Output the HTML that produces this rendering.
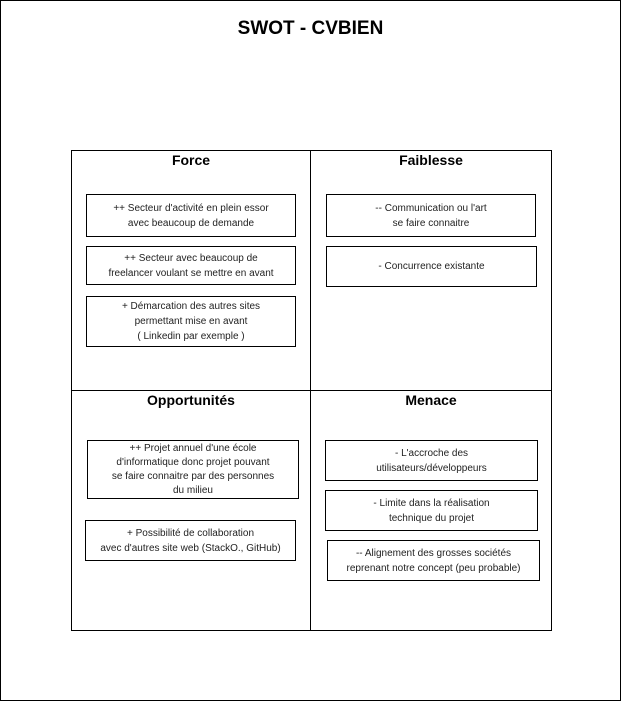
<!DOCTYPE html>
<html><head><meta charset="utf-8"><style>
body{margin:0;width:621px;height:701px;background:#fff;font-family:"Liberation Sans",Arial,sans-serif;}
.frame{position:absolute;left:0;top:0;width:619px;height:699px;border:1px solid #000;}
.t{position:absolute;left:0;width:621px;top:18px;text-align:center;font-weight:bold;font-size:19px;}
.grid{position:absolute;left:71px;top:150px;width:479px;height:479px;border:1px solid #000;}
.vl{position:absolute;left:310px;top:150px;width:1px;height:480px;background:#000;}
.hl{position:absolute;left:71px;top:390px;width:480px;height:1px;background:#000;}
.h{position:absolute;width:240px;text-align:center;font-weight:bold;font-size:14px;}
.b{position:absolute;border:1px solid #000;box-sizing:border-box;display:flex;align-items:center;justify-content:center;text-align:center;font-size:10px;line-height:15px;color:#222;}
</style></head><body>
<div class="frame"></div>
<div class="t">SWOT - CVBIEN</div>
<div class="grid"></div><div class="vl"></div><div class="hl"></div>
<div class="h" style="left:71px;top:152px">Force</div>
<div class="h" style="left:311px;top:152px">Faiblesse</div>
<div class="h" style="left:71px;top:392px">Opportunités</div>
<div class="h" style="left:311px;top:392px">Menace</div>

<div class="b" style="left:86px;top:194px;width:210px;height:43px">++ Secteur d'activité en plein essor<br>avec beaucoup de demande</div>
<div class="b" style="left:86px;top:246px;width:210px;height:39px">++ Secteur avec beaucoup de<br>freelancer voulant se mettre en avant</div>
<div class="b" style="left:86px;top:296px;width:210px;height:51px">+ Démarcation des autres sites<br>permettant mise en avant<br>( Linkedin par exemple )</div>

<div class="b" style="left:326px;top:194px;width:210px;height:43px">-- Communication ou l'art<br>se faire connaitre</div>
<div class="b" style="left:326px;top:246px;width:211px;height:41px">- Concurrence existante</div>

<div class="b" style="left:87px;top:440px;width:212px;height:59px;line-height:14px">++ Projet annuel d'une école<br>d'informatique donc projet pouvant<br>se faire connaitre par des personnes<br>du milieu</div>
<div class="b" style="left:85px;top:520px;width:211px;height:41px">+ Possibilité de collaboration<br>avec d'autres site web (StackO., GitHub)</div>

<div class="b" style="left:325px;top:440px;width:213px;height:41px">- L'accroche des<br>utilisateurs/développeurs</div>
<div class="b" style="left:325px;top:490px;width:213px;height:41px">- Limite dans la réalisation<br>technique du projet</div>
<div class="b" style="left:327px;top:540px;width:213px;height:41px">-- Alignement des grosses sociétés<br>reprenant notre concept (peu probable)</div>
</body></html>
